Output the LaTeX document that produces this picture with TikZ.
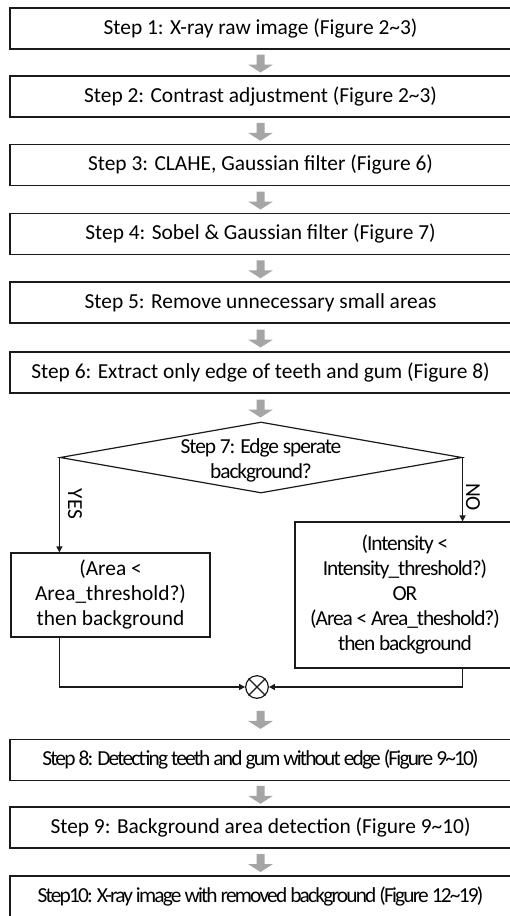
\documentclass[tikz,border=0pt]{standalone}
\usepackage{fontspec}
\setmainfont{Carlito}
\newfontfamily\condfont[LetterSpace=-5]{Carlito}
\newfontfamily\tightfont[LetterSpace=-8.5]{Carlito}
\usetikzlibrary{arrows.meta,shapes.geometric,calc}
\definecolor{arrowgray}{HTML}{A5A5A5}
\definecolor{linec}{HTML}{1A1A1A}
\begin{document}
\begin{tikzpicture}[x=1pt,y=-1pt,
  font=\fontsize{21.4pt}{25pt}\selectfont,
  cfont/.style={font=\condfont\fontsize{21.4pt}{25pt}\selectfont},
  tfont/.style={font=\tightfont\fontsize{21.4pt}{25pt}\selectfont},
  stepbox/.style={draw=linec, line width=1.2pt, minimum width=501pt, minimum height=41pt, inner sep=0pt},
  sidebox/.style={draw=linec, line width=1.2pt, inner sep=0pt, align=center},
  conn/.style={draw=linec, line width=1.2pt, -{Triangle[length=6pt,width=6pt]}},
  lbl/.style={rotate=-90, inner sep=0pt},
  garrow/.pic={\fill[arrowgray] (-4,-9) -- (4,-9) -- (4,1) -- (12.5,1) -- (0,9) -- (-12.5,1) -- (-4,1) -- cycle;}
]
\useasboundingbox (0,0) rectangle (510,916);

\node[stepbox] (b1) at (260.5,28.5) {Step 1: X-ray raw image (Figure 2\char`\~3)};
\node[stepbox] (b2) at (260.5,96.5) {Step 2: Contrast adjustment (Figure 2\char`\~3)};
\node[stepbox] (b3) at (260.5,165) {Step 3: CLAHE, Gaussian filter (Figure 6)};
\node[stepbox] (b4) at (260.5,234) {Step 4: Sobel \& Gaussian filter (Figure 7)};
\node[stepbox] (b5) at (260.5,302.5) {Step 5: Remove unnecessary small areas};
\node[stepbox] (b6) at (260.5,372.5) {Step 6: Extract only edge of teeth and gum (Figure 8)};

\node[diamond, draw=linec, line width=1.2pt, minimum width=402pt, minimum height=71pt, inner sep=0pt] (d) at (261,457.5) {};
\node[cfont, align=center, inner sep=0pt] (dt) at (261,460) {Step 7: Edge sperate\\background?};

\node[sidebox, minimum width=199pt, minimum height=84pt] (lb) at (110.5,595) {(Area <\\Area\_threshold?)\\then background};
\node[sidebox, cfont, minimum width=220pt, minimum height=146pt] (rb) at (405,595) {(Intensity <\\Intensity\_threshold?)\\OR\\(Area < Area\_theshold?)\\then background};

\node[lbl] (yes) at (75,504) {YES};
\node[lbl] (no) at (473,497) {NO};

\node[circle, draw=linec, line width=1.2pt, minimum size=22.6pt, inner sep=0pt] (cx) at (257,687) {};
\draw[linec, line width=1.2pt] (cx.north west) -- (cx.south east) (cx.north east) -- (cx.south west);

\node[stepbox, tfont] (b8) at (260.5,760) {Step 8: Detecting teeth and gum without edge (Figure 9\char`\~10)};
\node[stepbox] (b9) at (260.5,827.5) {Step 9: Background area detection (Figure 9\char`\~10)};
\node[stepbox, tfont] (b10) at (260.5,896.5) {Step10: X-ray image with removed background (Figure 12\char`\~19)};

\draw[conn] (d.west) -- (d.west |- lb.north);
\draw[conn] (d.east) -- (d.east |- rb.north);
\draw[conn] (d.west |- lb.south) |- (cx.west);
\draw[conn] (d.east |- rb.south) |- (cx.east);

\foreach \a/\b in {b1/b2,b2/b3,b3/b4,b4/b5,b5/b6,b6/d,cx/b8,b8/b9,b9/b10}{
  \coordinate (m) at ($(\a.south)!0.5!(\b.north)$);
  \path ([yshift=-1pt]b1.center |- m) pic {garrow};
}
\end{tikzpicture}
\end{document}
